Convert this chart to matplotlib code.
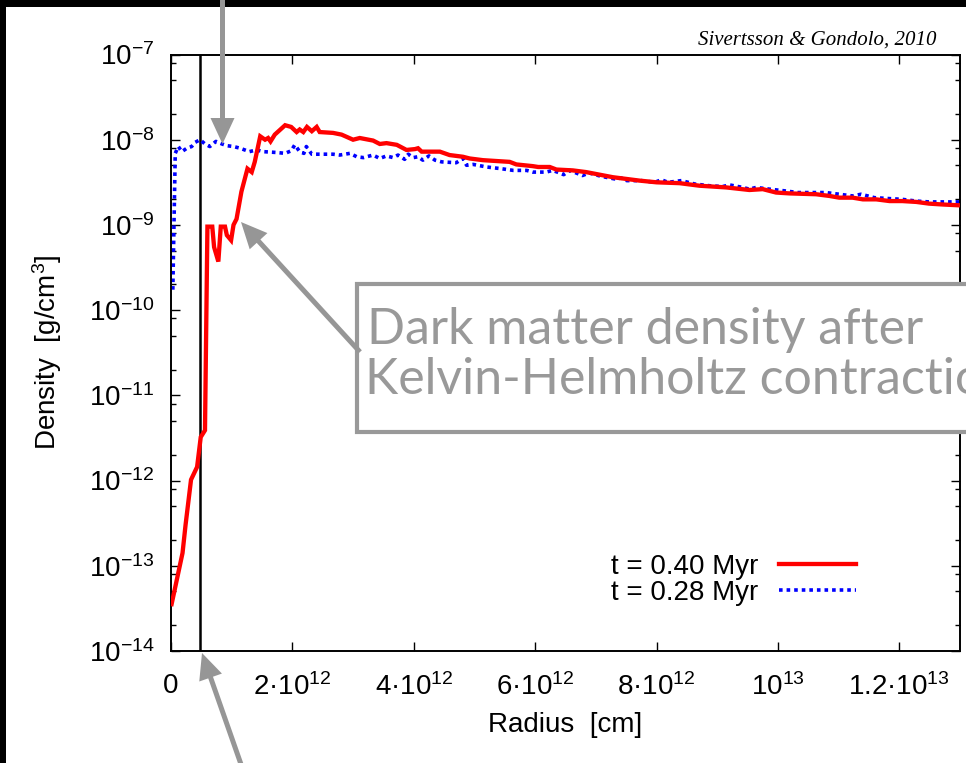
import numpy as np
import matplotlib
matplotlib.use("Agg")
import matplotlib.pyplot as plt
from matplotlib.patches import Rectangle, FancyArrow
from matplotlib.transforms import IdentityTransform
from matplotlib.ticker import FixedLocator, FixedFormatter, LogLocator, NullFormatter

plt.rcParams['font.family'] = ['Liberation Sans', 'DejaVu Sans']
plt.rcParams['mathtext.fontset'] = 'custom'
plt.rcParams['mathtext.rm'] = 'Liberation Sans'
plt.rcParams['mathtext.it'] = 'Liberation Sans:italic'
plt.rcParams['mathtext.bf'] = 'Liberation Sans:bold'

# ---------------- data ----------------
# radius in units of 1e12 cm, density as log10(g/cm^3)
red_radius = [0.01, 0.19, 0.24, 0.33, 0.43, 0.49, 0.56, 0.60, 0.68, 0.71,
              0.78, 0.82, 0.89, 0.92, 0.99, 1.03, 1.08, 1.16, 1.26, 1.33,
              1.38, 1.47, 1.55, 1.60, 1.64, 1.71, 1.88, 1.98, 2.07, 2.12,
              2.18, 2.24, 2.32, 2.40, 2.45, 2.67, 2.81, 3.00, 3.11, 3.33,
              3.44, 3.55, 3.72, 3.88, 4.02, 4.07, 4.13, 4.43, 4.59, 4.81,
              4.92, 5.14, 5.58, 5.69, 5.96, 6.05, 6.24, 6.35, 6.62, 6.84,
              7.06, 7.28, 7.50, 7.72, 8.00, 8.38, 8.71, 9.15, 9.53, 9.75,
              9.97, 10.19, 10.63, 10.85, 11.01, 11.23, 11.40, 11.62, 11.84, 12.05,
              12.28, 12.49, 12.71, 12.99]
red_log_density = [-13.45, -12.85, -12.52, -11.99, -11.84, -11.49, -11.41, -9.02, -9.02, -9.26,
                   -9.43, -9.02, -9.02, -9.12, -9.18, -9.00, -8.93, -8.61, -8.34, -8.38,
                   -8.26, -7.96, -8.00, -7.98, -8.02, -7.94, -7.83, -7.85, -7.91, -7.88,
                   -7.91, -7.85, -7.90, -7.85, -7.91, -7.92, -7.94, -8.00, -7.98, -8.01,
                   -8.05, -8.04, -8.06, -8.12, -8.11, -8.10, -8.14, -8.14, -8.18, -8.20,
                   -8.22, -8.24, -8.26, -8.29, -8.31, -8.32, -8.32, -8.35, -8.36, -8.38,
                   -8.41, -8.44, -8.46, -8.48, -8.50, -8.51, -8.54, -8.56, -8.59, -8.58,
                   -8.62, -8.63, -8.64, -8.66, -8.68, -8.68, -8.70, -8.70, -8.72, -8.72,
                   -8.73, -8.75, -8.76, -8.77]

blue_radius = [0.03, 0.07, 0.12, 0.18, 0.26, 0.34, 0.40, 0.48, 0.56, 0.64,
               0.74, 0.84, 0.92, 1.03, 1.14, 1.29, 1.41, 1.52, 1.74, 1.88,
               1.98, 2.04, 2.12, 2.19, 2.23, 2.32, 2.45, 2.67, 2.78, 2.95,
               3.06, 3.17, 3.33, 3.44, 3.55, 3.66, 3.74, 3.85, 3.91, 3.99,
               4.07, 4.15, 4.25, 4.35, 4.46, 4.70, 4.81, 4.87, 4.98, 5.20,
               5.44, 5.64, 5.86, 5.96, 6.18, 6.29, 6.40, 6.47, 6.57, 6.78,
               6.89, 7.09, 7.31, 7.42, 7.51, 7.75, 7.97, 8.08, 8.19, 8.41,
               8.63, 8.87, 9.09, 9.20, 9.42, 9.53, 9.64, 9.86, 10.11, 10.33,
               10.55, 10.79, 11.01, 11.23, 11.37, 11.59, 11.81, 12.05, 12.28, 12.49,
               12.74, 12.85, 12.99]
blue_log_density = [-9.76, -8.16, -8.08, -8.14, -8.10, -8.08, -8.03, -8.00, -8.05, -8.08,
                    -8.02, -8.05, -8.07, -8.08, -8.10, -8.14, -8.12, -8.14, -8.15, -8.16,
                    -8.13, -8.06, -8.14, -8.16, -8.08, -8.17, -8.17, -8.17, -8.18, -8.16,
                    -8.20, -8.21, -8.18, -8.22, -8.19, -8.21, -8.18, -8.23, -8.17, -8.21,
                    -8.20, -8.24, -8.19, -8.24, -8.26, -8.27, -8.22, -8.30, -8.29, -8.32,
                    -8.34, -8.36, -8.36, -8.38, -8.38, -8.36, -8.39, -8.41, -8.36, -8.42,
                    -8.39, -8.43, -8.46, -8.45, -8.48, -8.48, -8.50, -8.47, -8.50, -8.48,
                    -8.52, -8.54, -8.55, -8.53, -8.56, -8.58, -8.56, -8.58, -8.60, -8.62,
                    -8.62, -8.62, -8.64, -8.66, -8.64, -8.68, -8.69, -8.70, -8.72, -8.73,
                    -8.73, -8.73, -8.73]

series_labels = ['t = 0.40 Myr', 't = 0.28 Myr']
vline_radius = 0.48e12

x_ticks = [0, 2e12, 4e12, 6e12, 8e12, 1e13, 1.2e13]
x_tick_labels = ['0', r'$\mathregular{2·10^{12}}$', r'$\mathregular{4·10^{12}}$',
                 r'$\mathregular{6·10^{12}}$', r'$\mathregular{8·10^{12}}$',
                 r'$\mathregular{10^{13}}$', r'$\mathregular{1.2·10^{13}}$']
y_ticks = [1e-14, 1e-13, 1e-12, 1e-11, 1e-10, 1e-9, 1e-8, 1e-7]
y_tick_labels = [r'$\mathregular{10^{-14}}$', r'$\mathregular{10^{-13}}$',
                 r'$\mathregular{10^{-12}}$', r'$\mathregular{10^{-11}}$',
                 r'$\mathregular{10^{-10}}$', r'$\mathregular{10^{-9}}$',
                 r'$\mathregular{10^{-8}}$', r'$\mathregular{10^{-7}}$']

# ---------------- figure ----------------
W, H = 966, 763
FS = 20
fig = plt.figure(figsize=(W / 100, H / 100), dpi=100)
fig.patch.set_facecolor('white')

def fx(px):
    return px / W

def fy(py):
    return 1 - py / H

ax = fig.add_axes([fx(171), fy(651), fx(960) - fx(171), fy(54.5) - fy(651)])

red_r = np.array(red_radius) * 1e12
red_d = 10 ** np.array(red_log_density)
blue_r = np.array(blue_radius) * 1e12
blue_d = 10 ** np.array(blue_log_density)

ax.axvline(vline_radius, color='black', lw=1.8, zorder=1)
ax.plot(red_r, red_d, color='#ff0000', lw=3.1, solid_joinstyle='miter',
        label=series_labels[0], zorder=3)
ax.plot(blue_r, blue_d, color='#0000ff', lw=2.6, linestyle=(0, (1.0, 1.1)),
        dash_capstyle='butt', label=series_labels[1], zorder=2)

ax.set_yscale('log')
ax.set_xlim(0, 1.3e13)
ax.set_ylim(1e-14, 1e-7)

ax.xaxis.set_major_locator(FixedLocator(x_ticks))
ax.xaxis.set_major_formatter(FixedFormatter(x_tick_labels))
ax.yaxis.set_major_locator(FixedLocator(y_ticks))
ax.yaxis.set_major_formatter(FixedFormatter(y_tick_labels))
ax.yaxis.set_minor_locator(LogLocator(base=10, subs=[2, 5, 8], numticks=20))
ax.yaxis.set_minor_formatter(NullFormatter())

ax.tick_params(which='both', direction='in', top=True, right=True, width=1.0, color='black')
ax.tick_params(which='major', length=6.5)
ax.tick_params(which='minor', length=3.5)
ax.tick_params(axis='x', which='major', labelsize=FS, pad=16)
ax.tick_params(axis='y', which='major', labelsize=FS, pad=12)
for s in ax.spines.values():
    s.set_linewidth(1.4)
    s.set_color('black')

ax.set_xlabel('Radius  [cm]', fontsize=FS, labelpad=8)
ax.set_ylabel(r'Density  [g/cm$\mathregular{^3}$]', fontsize=FS, labelpad=18)

leg = ax.legend(loc='center', bbox_to_anchor=(fx(733.5), fy(580)),
                bbox_transform=fig.transFigure, markerfirst=False, frameon=False,
                fontsize=FS, handlelength=2.8, handletextpad=0.75, labelspacing=0.0,
                borderpad=0, borderaxespad=0)

# citation
fig.text(fx(937), fy(45), 'Sivertsson & Gondolo, 2010', ha='right', va='baseline',
         fontsize=15, family='Liberation Serif', style='italic')

# black frame edges
fig.add_artist(Rectangle((0, fy(7)), 1, 7 / H, transform=fig.transFigure,
                         facecolor='black', edgecolor='none', zorder=5))
fig.add_artist(Rectangle((0, 0), 6 / W, 1, transform=fig.transFigure,
                         facecolor='black', edgecolor='none', zorder=5))

gray = '#999999'
# annotation box
fig.add_artist(Rectangle((fx(357), fy(432)), fx(1000) - fx(357), fy(284) - fy(432),
                         transform=fig.transFigure, facecolor='white', edgecolor=gray,
                         lw=3.0, zorder=6, clip_on=False))
fig.text(fx(367), fy(344), 'Dark matter density after', ha='left', va='baseline',
         fontsize=36, color=gray, family='Lato', zorder=7)
fig.text(fx(365), fy(394), 'Kelvin-Helmholtz contraction', ha='left', va='baseline',
         fontsize=36, color=gray, family='Lato', zorder=7)

# arrows in pixel space (top-left origin converted)
def arrow(x0, y0, x1, y1):
    X0, Y0, X1, Y1 = x0, H - y0, x1, H - y1
    a = FancyArrow(X0, Y0, X1 - X0, Y1 - Y0, width=5, head_width=24, head_length=26,
                   length_includes_head=True, color='#969696', ec='none',
                   transform=IdentityTransform(), zorder=8)
    fig.add_artist(a)

arrow(222.5, -5, 222.5, 144)
arrow(360, 352, 241, 222)
arrow(243, 770, 202, 653)

fig.savefig('out.png', dpi=100, facecolor='white')
